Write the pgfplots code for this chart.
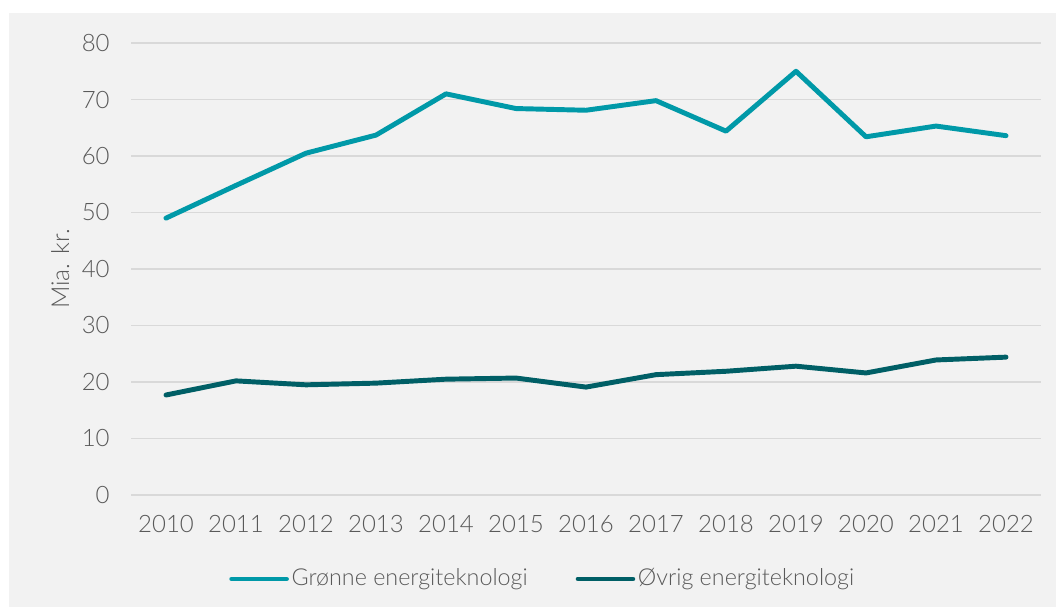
\documentclass[border=0pt]{standalone}
\usepackage{fontspec}
\setmainfont{Lato Light}
\usepackage{pgfplots}
\pgfplotsset{compat=1.18}
\definecolor{bggray}{HTML}{F2F2F2}
\definecolor{gridgray}{HTML}{D9D9D9}
\definecolor{txtgray}{HTML}{595959}
\definecolor{greenline}{HTML}{0099A8}
\definecolor{darkline}{HTML}{005F66}
\begin{document}
\fontsize{17.5}{21}\selectfont
\begin{tikzpicture}
\path[use as bounding box] (0,0) rectangle (792pt,455.25pt);
\fill[white] (0,0) rectangle (792pt,455.25pt);
\fill[bggray] (6.75pt,0) rectangle (792pt,445.5pt);
\begin{axis}[
  at={(98.25pt,84pt)}, anchor=south west,
  scale only axis, width=682.5pt, height=339pt,
  xmin=2009.5, xmax=2022.5, ymin=0, ymax=80,
  xtick={2010,2011,...,2022}, ytick={0,10,...,80},
  /pgf/number format/1000 sep={},
  /pgf/number format/assume math mode=true,
  axis line style={draw=none}, tick style={draw=none},
  ymajorgrids, grid style={color=gridgray, line width=1.1pt},
  tick label style={color=txtgray, font=\fontsize{18}{21}\selectfont},
  yticklabel style={xshift=-10pt},
  xticklabel style={yshift=-9pt},
  ylabel={Mia. kr.},
  every axis y label/.style={at={(axis description cs:-0.0777,0.5)},rotate=90,anchor=center,color=txtgray,font=\fontsize{18.5}{21}\selectfont},
  legend style={at={(axis description cs:0.1077,-0.1858)}, anchor=west, draw=none, fill=none, legend columns=2, inner sep=0pt,
    font=\fontsize{17.5}{21}\selectfont, text=txtgray,
    /tikz/every even column/.append style={column sep=34pt}},
  legend cell align=left,
  legend image code/.code={\draw[#1, line cap=round] (0pt,0pt) -- (41pt,0pt);},
  every axis plot/.append style={line width=3.7pt, line cap=round, line join=round},
]
\addplot[greenline] coordinates {
(2010,49.0) (2011,54.8) (2012,60.5) (2013,63.7) (2014,71.0) (2015,68.4) (2016,68.1) (2017,69.8) (2018,64.4) (2019,75.0) (2020,63.4) (2021,65.3) (2022,63.6)};
\addlegendentry{Grønne energiteknologi}
\addplot[darkline] coordinates {
(2010,17.7) (2011,20.2) (2012,19.5) (2013,19.8) (2014,20.5) (2015,20.7) (2016,19.1) (2017,21.3) (2018,21.9) (2019,22.8) (2020,21.6) (2021,23.9) (2022,24.4)};
\addlegendentry{Øvrig energiteknologi}
\end{axis}
\end{tikzpicture}
\end{document}
